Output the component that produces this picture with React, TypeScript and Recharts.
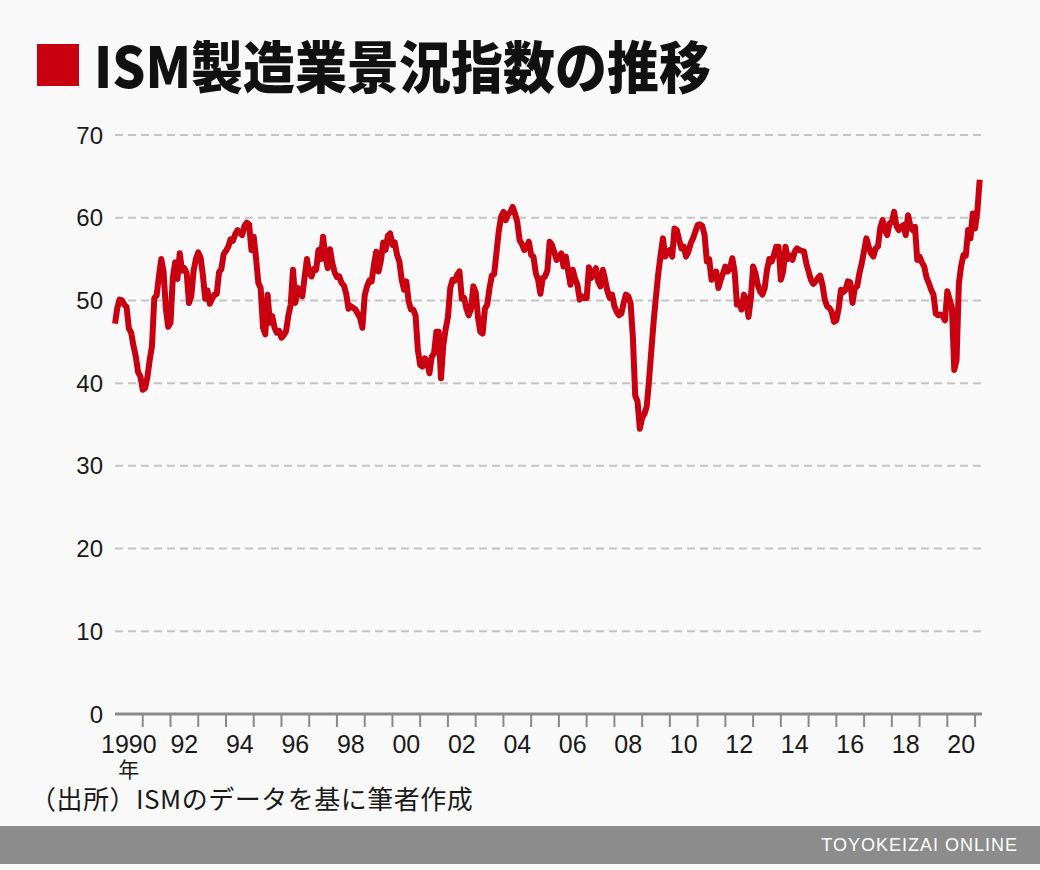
import React from 'react';
import { LineChart, Line, XAxis, YAxis, CartesianGrid } from 'recharts';

// ISM manufacturing PMI, monthly, Jan of each year first
const pmi1990s = [
  47.2, 49.1, 50.1, 50.0, 49.5, 49.2, 46.6, 46.1, 44.5, 43.2, 41.3, 40.8,
  39.2, 39.4, 40.7, 42.8, 44.5, 50.3, 50.6, 52.9, 55.0, 53.5, 49.0, 46.8,
  47.3, 52.7, 54.6, 52.6, 55.7, 53.6, 53.9, 53.3, 49.7, 50.5, 53.6, 55.0,
  55.8, 55.2, 53.1, 50.2, 51.2, 49.6, 50.2, 50.7, 50.8, 53.4, 53.8, 55.6,
  56.0, 56.5, 57.4, 57.2, 58.0, 58.5, 58.2, 57.9, 59.0, 59.4, 59.2, 56.1,
  57.7, 55.1, 52.1, 51.5, 46.7, 45.9, 50.7, 47.3, 48.1, 46.7, 46.1, 46.3,
  45.5, 45.8, 46.3, 48.2, 49.5, 53.7, 49.7, 51.5, 51.0, 50.5, 52.8, 55.0,
  53.3, 52.9, 53.8, 53.7, 56.1, 55.0, 57.7, 55.3, 53.9, 56.2, 54.5, 53.4,
  52.8, 52.9, 52.1, 51.8, 50.8, 49.0, 49.3, 49.1, 48.9, 48.4, 47.9, 46.7,
  50.6, 51.7, 52.4, 52.3, 54.3, 55.9, 53.5, 54.8, 57.0, 56.1, 57.8, 58.1,
];

const pmi2000s = [
  56.7, 57.0, 55.5, 54.7, 52.5, 51.3, 52.3, 49.9, 48.9, 48.9, 48.2, 44.0,
  42.2, 42.0, 43.0, 42.6, 41.2, 43.2, 43.6, 46.2, 46.2, 40.6, 44.6, 46.5,
  48.0, 51.5, 52.5, 52.4, 53.1, 53.5, 50.2, 50.3, 49.0, 48.2, 49.0, 51.7,
  51.0, 48.0, 46.2, 46.0, 49.0, 49.5, 51.5, 53.0, 53.2, 55.8, 58.4, 60.1,
  60.7, 59.7, 60.4, 60.7, 61.3, 60.5, 59.5, 57.3, 56.8, 56.1, 56.4, 57.1,
  55.5, 55.3, 53.3, 52.5, 50.8, 52.7, 52.9, 53.6, 57.1, 56.7, 55.8, 54.9,
  55.2, 55.7, 54.1, 55.3, 53.5, 51.9, 53.7, 52.6, 51.9, 50.1, 50.5, 50.3,
  50.3, 54.0, 52.7, 53.3, 53.9, 52.3, 51.7, 53.7, 52.5, 51.1, 50.3, 50.7,
  49.3, 48.6, 48.2, 48.4, 49.7, 50.7, 50.5, 49.7, 45.5, 38.5, 37.8, 34.5,
  35.8, 36.3, 37.2, 40.4, 44.0, 47.5, 50.5, 53.3, 55.5, 57.5, 55.3, 55.9,
];

const pmi2010s = [
  56.1, 55.3, 58.7, 58.5, 57.3, 56.3, 56.5, 55.3, 55.9, 56.9, 57.5, 58.3,
  59.1, 59.2, 59.0, 57.9, 54.7, 55.0, 52.5, 52.8, 53.5, 51.5, 52.5, 53.3,
  54.1, 53.5, 53.8, 55.1, 53.5, 49.5, 49.8, 48.9, 50.7, 50.2, 48.0, 50.2,
  54.1, 53.3, 51.9, 51.1, 50.7, 51.5, 53.7, 55.0, 54.7, 55.5, 56.5, 56.5,
  52.5, 53.5, 56.5, 55.0, 55.4, 54.9, 55.9, 56.3, 56.1, 56.0, 55.9, 54.5,
  53.5, 52.5, 52.0, 52.3, 52.7, 53.0, 51.9, 50.1, 49.3, 49.1, 48.6, 47.4,
  47.6, 49.0, 51.3, 51.0, 51.3, 52.3, 52.2, 49.7, 51.5, 51.7, 53.3, 54.5,
  56.0, 57.5, 56.5, 55.7, 55.3, 56.3, 56.5, 58.8, 59.7, 58.5, 57.9, 59.3,
  59.5, 60.7, 59.0, 58.5, 58.9, 59.1, 57.9, 60.3, 59.0, 58.5, 58.9, 54.9,
  55.3, 54.6, 54.1, 52.8, 52.1, 51.3, 50.7, 48.4, 48.2, 48.3, 48.1, 47.6,
];

const pmi2020s = [
  51.1, 50.1, 49.1, 41.6, 42.8, 52.1, 54.2, 55.5, 55.4, 58.5, 57.5, 60.5,
  58.7, 60.8, 64.6,
];

const startYear = 1990;
const endYear = 2021.25;
const yTicks = [0, 10, 20, 30, 40, 50, 60, 70];
const labelYears = [1990, 1992, 1994, 1996, 1998, 2000, 2002, 2004, 2006, 2008, 2010, 2012, 2014, 2016, 2018, 2020];
const yearLabels = ['1990', '92', '94', '96', '98', '00', '02', '04', '06', '08', '10', '12', '14', '16', '18', '20'];

const allValues = [...pmi1990s, ...pmi2000s, ...pmi2010s, ...pmi2020s];
const data = allValues.map((v, i) => ({ t: startYear + i / 12, v }));

// tick lines on year boundaries, labels in the middle of even years
const xTicks: number[] = [];
for (let y = startYear; y <= 2021; y++) {
  xTicks.push(y);
  if (y < 2021) xTicks.push(y + 0.5);
}

const LATIN = '"Liberation Sans", Arial, Helvetica, sans-serif';
const CJK = '"Noto Sans CJK JP", "Noto Sans", sans-serif';

const YearTick = (props: any) => {
  const { x, y, payload } = props;
  const v = payload.value as number;
  if (Number.isInteger(v)) {
    if (v === startYear) return <g />;
    return <line x1={x} x2={x} y1={y} y2={y + 13} stroke="#8a8a8a" strokeWidth={2} />;
  }
  const idx = labelYears.indexOf(Math.floor(v));
  if (idx < 0) return <g />;
  return (
    <g>
      <text x={x} y={y + 39} textAnchor="middle" fontSize={25} fill="#1a1a1a" fontFamily={LATIN}>
        {yearLabels[idx]}
      </text>
      {idx === 0 && (
        <text x={x} y={y + 63} textAnchor="middle" fontSize={21} fill="#1a1a1a" fontFamily={CJK}>
          年
        </text>
      )}
    </g>
  );
};

export default function App() {
  return (
    <div
      style={{
        position: 'absolute',
        left: 0,
        top: 0,
        width: 1040,
        height: 870,
        background: '#f9f9f9',
        overflow: 'hidden',
      }}
    >
      {/* title */}
      <div style={{ position: 'absolute', left: 37, top: 44, width: 42, height: 42, background: '#c8000f' }} />
      <div
        style={{
          position: 'absolute',
          left: 94,
          top: 29,
          fontFamily: CJK,
          fontWeight: 900,
          fontSize: 52,
          lineHeight: '70px',
          color: '#111',
          whiteSpace: 'nowrap',
          transform: 'scale(1, 1.08)',
          transformOrigin: 'left center',
        }}
      >
        ISM製造業景況指数の推移
      </div>

      <div style={{ position: 'absolute', left: 0, top: 100 }}>
        <LineChart width={1040} height={684} data={data} margin={{ top: 35, right: 58, left: 0, bottom: 0 }}>
          <CartesianGrid vertical={false} stroke="#c4c4c4" strokeWidth={2} strokeDasharray="8 5" />
          <XAxis
            dataKey="t"
            type="number"
            domain={[startYear, endYear]}
            ticks={xTicks}
            interval={0}
            tick={<YearTick />}
            tickLine={false}
            tickSize={0}
            tickMargin={0}
            height={70}
            axisLine={{ stroke: '#8a8a8a', strokeWidth: 3 }}
          />
          <YAxis
            type="number"
            domain={[0, 70]}
            ticks={yTicks}
            interval={0}
            width={115}
            axisLine={false}
            tickLine={false}
            tickSize={0}
            tickMargin={12}
            tick={{ fontSize: 24, fill: '#1a1a1a', fontFamily: LATIN }}
          />
          <Line
            type="linear"
            dataKey="v"
            stroke="#c9000f"
            strokeWidth={6}
            strokeLinejoin="round"
            dot={false}
            isAnimationActive={false}
          />
        </LineChart>
      </div>

      {/* source */}
      <div
        style={{
          position: 'absolute',
          left: 30,
          top: 783,
          fontFamily: CJK,
          fontSize: 26,
          letterSpacing: 0.5,
          lineHeight: '30px',
          color: '#1a1a1a',
          whiteSpace: 'nowrap',
        }}
      >
        （出所）ISMのデータを基に筆者作成
      </div>

      {/* footer band */}
      <div
        style={{
          position: 'absolute',
          left: 0,
          top: 826,
          width: 1040,
          height: 38,
          background: '#8c8c8c',
          color: '#ffffff',
          fontFamily: LATIN,
          fontSize: 18,
          letterSpacing: 1,
          lineHeight: '38px',
          textAlign: 'right',
          paddingRight: 22,
          boxSizing: 'border-box',
        }}
      >
        TOYOKEIZAI ONLINE
      </div>
    </div>
  );
}
